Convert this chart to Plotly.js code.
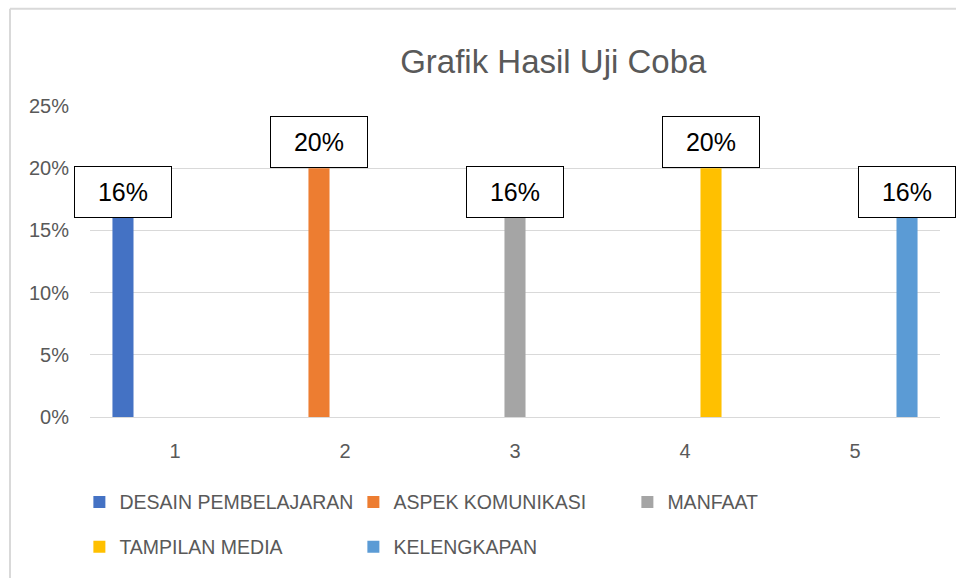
<!DOCTYPE html>
<html>
<head>
<meta charset="utf-8">
<script src="https://cdn.plot.ly/plotly-3.0.1.min.js"></script>
<style>html,body{margin:0;padding:0;background:#fff;}#chart{width:956px;height:578px;}</style>
</head>
<body>
<div id="chart"></div>
<script>
var categories = ['1', '2', '3', '4', '5'];
var seriesNames = ['DESAIN PEMBELAJARAN', 'ASPEK KOMUNIKASI', 'MANFAAT', 'TAMPILAN MEDIA', 'KELENGKAPAN'];
var desain = [0.16, null, null, null, null];
var aspek = [null, 0.20, null, null, null];
var manfaat = [null, null, 0.16, null, null];
var tampilan = [null, null, null, 0.20, null];
var kelengkapan = [null, null, null, null, 0.16];
var yTickVals = [0, 0.05, 0.10, 0.15, 0.20, 0.25];
var yTickText = ['0%', '5%', '10%', '15%', '20%', '25%'];
var titleText = 'Grafik Hasil Uji Coba';

var colors = ['#4472C4', '#ED7D31', '#A5A5A5', '#FFC000', '#5B9BD5'];
var allSeries = [desain, aspek, manfaat, tampilan, kelengkapan];
var legendOf = ['legend', 'legend', 'legend', 'legend2', 'legend2'];

var bargap = 0.235;
var nSeries = allSeries.length;
var slot = (1 - bargap) / nSeries;

var traces = allSeries.map(function (vals, j) {
  return {
    type: 'bar',
    name: seriesNames[j],
    x: categories,
    y: vals,
    marker: {color: colors[j], line: {width: 0}},
    legend: legendOf[j],
    hoverinfo: 'skip'
  };
});

var annotations = [];
allSeries.forEach(function (vals, j) {
  vals.forEach(function (v, i) {
    if (v === null) return;
    annotations.push({
      xref: 'x', yref: 'y',
      x: i + (j - (nSeries - 1) / 2) * slot,
      y: v,
      xanchor: 'center', yanchor: 'bottom',
      text: Math.round(v * 100) + '%',
      showarrow: false,
      font: {family: 'Liberation Sans, Arial, sans-serif', size: 25, color: '#000000'},
      bgcolor: '#ffffff',
      bordercolor: '#000000',
      borderwidth: 1,
      borderpad: 1,
      width: 94,
      height: 48,
      valign: 'middle'
    });
  });
});

var tickFont = {family: 'Liberation Sans, Arial, sans-serif', size: 20, color: '#595959'};
var legendFont = {family: 'Liberation Sans, Arial, sans-serif', size: 19.5, color: '#595959'};

var layout = {
  width: 956, height: 578,
  margin: {l: 90, r: 16, t: 106, b: 159, pad: 0},
  paper_bgcolor: '#ffffff',
  plot_bgcolor: '#ffffff',
  barmode: 'group',
  bargap: bargap,
  bargroupgap: 0.19,
  title: {
    text: titleText,
    font: {family: 'Liberation Sans, Arial, sans-serif', size: 33, color: '#595959'},
    xref: 'paper', x: 0.545, xanchor: 'center',
    yref: 'container', y: 0.894, yanchor: 'middle'
  },
  xaxis: {
    type: 'category',
    categoryorder: 'array',
    categoryarray: categories,
    range: [-0.5, 4.5],
    autorange: false,
    showgrid: false,
    zeroline: false,
    showline: true,
    linecolor: '#d9d9d9',
    linewidth: 1,
    ticks: '',
    tickfont: tickFont,
    ticklabelstandoff: 16,
    fixedrange: true
  },
  yaxis: {
    range: [0, 0.25],
    autorange: false,
    tickvals: yTickVals,
    ticktext: yTickText,
    showgrid: true,
    gridcolor: '#d9d9d9',
    gridwidth: 1,
    zeroline: false,
    showline: false,
    ticks: '',
    tickfont: tickFont,
    ticklabelstandoff: 20,
    fixedrange: true
  },
  legend: {
    orientation: 'h',
    x: -0.0125, xanchor: 'left',
    y: -0.274, yanchor: 'middle',
    font: legendFont,
    entrywidth: 229, entrywidthmode: 'pixels',
    bgcolor: 'rgba(0,0,0,0)',
    itemclick: false, itemdoubleclick: false
  },
  legend2: {
    orientation: 'h',
    x: -0.0125, xanchor: 'left',
    y: -0.418, yanchor: 'middle',
    font: legendFont,
    entrywidth: 229, entrywidthmode: 'pixels',
    bgcolor: 'rgba(0,0,0,0)',
    itemclick: false, itemdoubleclick: false
  },
  showlegend: true,
  annotations: annotations,
  shapes: [
    {type: 'line', xref: 'paper', yref: 'paper', x0: -0.0941, x1: -0.0941, y0: -0.6, y1: 1.313,
     line: {color: '#d9d9d9', width: 2}, layer: 'below'},
    {type: 'line', xref: 'paper', yref: 'paper', x0: -0.0941, x1: 1.1, y0: 1.313, y1: 1.313,
     line: {color: '#d9d9d9', width: 2}, layer: 'below'}
  ]
};

Plotly.newPlot('chart', traces, layout, {displayModeBar: false, staticPlot: true});
</script>
</body>
</html>
